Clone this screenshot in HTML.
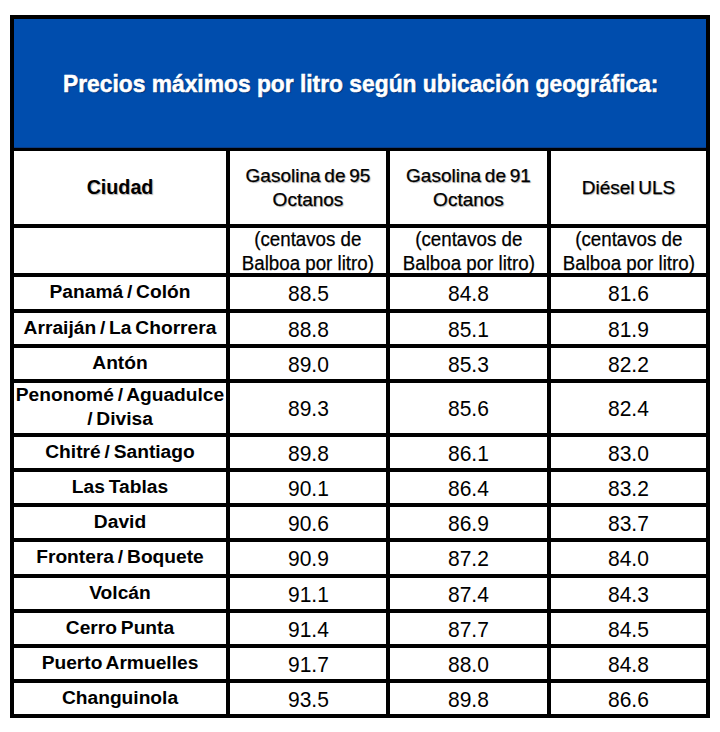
<!DOCTYPE html>
<html><head><meta charset="utf-8">
<style>
html,body{margin:0;padding:0;background:#fff;width:720px;height:732px;overflow:hidden;position:relative}
body{font-family:"Liberation Sans",sans-serif;color:#000}
.box{position:absolute;left:10px;top:15px;width:692px;height:695px;border:4px solid #000;background:#fff}
.blue{position:absolute;left:14px;top:19px;width:692px;height:129px;background:#004DAD}
.bline{position:absolute;left:14px;top:147px;width:692px;height:4px;background:linear-gradient(to bottom,#0a3c85 0%,#0a3c85 25%,#000 25%,#000 100%)}
.hl{position:absolute;left:14px;width:692px;height:4px;background:#000}
.vl{position:absolute;top:151px;width:4px;height:563px;background:#000}
.title{position:absolute;left:0;top:0;white-space:nowrap;color:#fff;font-weight:bold;transform-origin:0 0;-webkit-text-stroke:0.5px #fff;text-shadow:1px 1px 1px rgba(0,20,60,.5)}
.c{position:absolute;display:flex;align-items:center;justify-content:center;text-align:center}
.c span{display:block;white-space:nowrap}
.hr span,.sr span{-webkit-text-stroke:0.25px #000}
.hb{font-weight:bold;font-size:19.7px;text-shadow:1px 1px 1px rgba(0,0,0,.3)}
.hr{font-size:19px;line-height:24px;word-spacing:-1.5px;text-shadow:1px 1px 1px rgba(0,0,0,.3)}
.sr{font-size:19.5px;line-height:23.5px}
.cb{font-weight:bold;font-size:19.2px;line-height:24px;word-spacing:-1.5px}
.num{font-size:22px}
</style></head><body>
<div class="box"></div>
<div class="blue"></div>
<div class="bline"></div>
<div id="title" class="title" style="left:63px;top:71px;font-size:23.7px;transform:scaleX(0.9625)">Precios máximos por litro según ubicación geográfica:</div>
<div class="hl" style="top:224px"></div><div class="hl" style="top:273px"></div><div class="hl" style="top:309px"></div><div class="hl" style="top:344px"></div><div class="hl" style="top:379px"></div><div class="hl" style="top:433px"></div><div class="hl" style="top:468px"></div><div class="hl" style="top:503px"></div><div class="hl" style="top:538px"></div><div class="hl" style="top:574px"></div><div class="hl" style="top:609px"></div><div class="hl" style="top:644px"></div><div class="hl" style="top:679px"></div><div class="vl" style="left:226px"></div><div class="vl" style="left:386px"></div><div class="vl" style="left:547px"></div>
<div class="c hb" style="left:14px;top:151px;width:212px;height:73px"><span style="transform:translateY(0px)">Ciudad</span></div><div class="c hr" style="left:230px;top:151px;width:156px;height:73px"><span style="transform:translateY(0px)">Gasolina de 95<br>Octanos</span></div><div class="c hr" style="left:390px;top:151px;width:157px;height:73px"><span style="transform:translateY(0px)">Gasolina de 91<br>Octanos</span></div><div class="c hr" style="left:551px;top:151px;width:155px;height:73px"><span style="transform:translateY(0px)">Diésel ULS</span></div><div class="c sr" style="left:230px;top:228px;width:156px;height:45px"><span style="transform:translateY(1px) scaleX(0.96)">(centavos de<br>Balboa por litro)</span></div><div class="c sr" style="left:390px;top:228px;width:157px;height:45px"><span style="transform:translateY(1px) scaleX(0.96)">(centavos de<br>Balboa por litro)</span></div><div class="c sr" style="left:551px;top:228px;width:155px;height:45px"><span style="transform:translateY(1px) scaleX(0.96)">(centavos de<br>Balboa por litro)</span></div><div class="c cb" style="left:14px;top:277px;width:212px;height:32px"><span style="transform:translateY(-1px)">Panamá / Colón</span></div><div class="c num" style="left:230px;top:277px;width:156px;height:32px"><span style="transform:translateY(0.5px) scaleX(0.955)">88.5</span></div><div class="c num" style="left:390px;top:277px;width:157px;height:32px"><span style="transform:translateY(0.5px) scaleX(0.955)">84.8</span></div><div class="c num" style="left:551px;top:277px;width:155px;height:32px"><span style="transform:translateY(0.5px) scaleX(0.955)">81.6</span></div><div class="c cb" style="left:14px;top:313px;width:212px;height:31px"><span style="transform:translateY(-1px)">Arraiján / La Chorrera</span></div><div class="c num" style="left:230px;top:313px;width:156px;height:31px"><span style="transform:translateY(0.5px) scaleX(0.955)">88.8</span></div><div class="c num" style="left:390px;top:313px;width:157px;height:31px"><span style="transform:translateY(0.5px) scaleX(0.955)">85.1</span></div><div class="c num" style="left:551px;top:313px;width:155px;height:31px"><span style="transform:translateY(0.5px) scaleX(0.955)">81.9</span></div><div class="c cb" style="left:14px;top:348px;width:212px;height:31px"><span style="transform:translateY(-1px)">Antón</span></div><div class="c num" style="left:230px;top:348px;width:156px;height:31px"><span style="transform:translateY(0.5px) scaleX(0.955)">89.0</span></div><div class="c num" style="left:390px;top:348px;width:157px;height:31px"><span style="transform:translateY(0.5px) scaleX(0.955)">85.3</span></div><div class="c num" style="left:551px;top:348px;width:155px;height:31px"><span style="transform:translateY(0.5px) scaleX(0.955)">82.2</span></div><div class="c cb" style="left:14px;top:383px;width:212px;height:50px"><span style="transform:translateY(-1px)">Penonomé / Aguadulce<br>/ Divisa</span></div><div class="c num" style="left:230px;top:383px;width:156px;height:50px"><span style="transform:translateY(0.5px) scaleX(0.955)">89.3</span></div><div class="c num" style="left:390px;top:383px;width:157px;height:50px"><span style="transform:translateY(0.5px) scaleX(0.955)">85.6</span></div><div class="c num" style="left:551px;top:383px;width:155px;height:50px"><span style="transform:translateY(0.5px) scaleX(0.955)">82.4</span></div><div class="c cb" style="left:14px;top:437px;width:212px;height:31px"><span style="transform:translateY(-1px)">Chitré / Santiago</span></div><div class="c num" style="left:230px;top:437px;width:156px;height:31px"><span style="transform:translateY(0.5px) scaleX(0.955)">89.8</span></div><div class="c num" style="left:390px;top:437px;width:157px;height:31px"><span style="transform:translateY(0.5px) scaleX(0.955)">86.1</span></div><div class="c num" style="left:551px;top:437px;width:155px;height:31px"><span style="transform:translateY(0.5px) scaleX(0.955)">83.0</span></div><div class="c cb" style="left:14px;top:472px;width:212px;height:31px"><span style="transform:translateY(-1px)">Las Tablas</span></div><div class="c num" style="left:230px;top:472px;width:156px;height:31px"><span style="transform:translateY(0.5px) scaleX(0.955)">90.1</span></div><div class="c num" style="left:390px;top:472px;width:157px;height:31px"><span style="transform:translateY(0.5px) scaleX(0.955)">86.4</span></div><div class="c num" style="left:551px;top:472px;width:155px;height:31px"><span style="transform:translateY(0.5px) scaleX(0.955)">83.2</span></div><div class="c cb" style="left:14px;top:507px;width:212px;height:31px"><span style="transform:translateY(-1px)">David</span></div><div class="c num" style="left:230px;top:507px;width:156px;height:31px"><span style="transform:translateY(0.5px) scaleX(0.955)">90.6</span></div><div class="c num" style="left:390px;top:507px;width:157px;height:31px"><span style="transform:translateY(0.5px) scaleX(0.955)">86.9</span></div><div class="c num" style="left:551px;top:507px;width:155px;height:31px"><span style="transform:translateY(0.5px) scaleX(0.955)">83.7</span></div><div class="c cb" style="left:14px;top:542px;width:212px;height:32px"><span style="transform:translateY(-1px)">Frontera / Boquete</span></div><div class="c num" style="left:230px;top:542px;width:156px;height:32px"><span style="transform:translateY(0.5px) scaleX(0.955)">90.9</span></div><div class="c num" style="left:390px;top:542px;width:157px;height:32px"><span style="transform:translateY(0.5px) scaleX(0.955)">87.2</span></div><div class="c num" style="left:551px;top:542px;width:155px;height:32px"><span style="transform:translateY(0.5px) scaleX(0.955)">84.0</span></div><div class="c cb" style="left:14px;top:578px;width:212px;height:31px"><span style="transform:translateY(-1px)">Volcán</span></div><div class="c num" style="left:230px;top:578px;width:156px;height:31px"><span style="transform:translateY(0.5px) scaleX(0.955)">91.1</span></div><div class="c num" style="left:390px;top:578px;width:157px;height:31px"><span style="transform:translateY(0.5px) scaleX(0.955)">87.4</span></div><div class="c num" style="left:551px;top:578px;width:155px;height:31px"><span style="transform:translateY(0.5px) scaleX(0.955)">84.3</span></div><div class="c cb" style="left:14px;top:613px;width:212px;height:31px"><span style="transform:translateY(-1px)">Cerro Punta</span></div><div class="c num" style="left:230px;top:613px;width:156px;height:31px"><span style="transform:translateY(0.5px) scaleX(0.955)">91.4</span></div><div class="c num" style="left:390px;top:613px;width:157px;height:31px"><span style="transform:translateY(0.5px) scaleX(0.955)">87.7</span></div><div class="c num" style="left:551px;top:613px;width:155px;height:31px"><span style="transform:translateY(0.5px) scaleX(0.955)">84.5</span></div><div class="c cb" style="left:14px;top:648px;width:212px;height:31px"><span style="transform:translateY(-1px)">Puerto Armuelles</span></div><div class="c num" style="left:230px;top:648px;width:156px;height:31px"><span style="transform:translateY(0.5px) scaleX(0.955)">91.7</span></div><div class="c num" style="left:390px;top:648px;width:157px;height:31px"><span style="transform:translateY(0.5px) scaleX(0.955)">88.0</span></div><div class="c num" style="left:551px;top:648px;width:155px;height:31px"><span style="transform:translateY(0.5px) scaleX(0.955)">84.8</span></div><div class="c cb" style="left:14px;top:683px;width:212px;height:31px"><span style="transform:translateY(-1px)">Changuinola</span></div><div class="c num" style="left:230px;top:683px;width:156px;height:31px"><span style="transform:translateY(0.5px) scaleX(0.955)">93.5</span></div><div class="c num" style="left:390px;top:683px;width:157px;height:31px"><span style="transform:translateY(0.5px) scaleX(0.955)">89.8</span></div><div class="c num" style="left:551px;top:683px;width:155px;height:31px"><span style="transform:translateY(0.5px) scaleX(0.955)">86.6</span></div>
</body></html>
